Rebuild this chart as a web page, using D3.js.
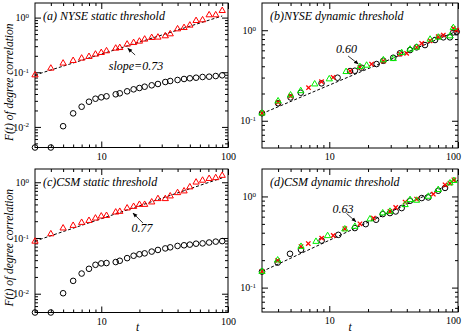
<!DOCTYPE html>
<html lang="en">
<head>
<meta charset="UTF-8">
<title>degree correlation</title>
<script src="https://d3js.org/d3.v7.min.js"></script>
<style>
    body { margin: 0; background: white; }
    svg { display: block; font-family: "Liberation Serif", "Times New Roman", serif; }
    .frame { fill: none; stroke: black; stroke-width: 1; }
    .tick line { stroke: black; }
    .tick text { font-size: 10px; fill: black; font-family: "Liberation Serif", serif; }
    .title { font-size: 12px; font-style: italic; }
    .label { font-size: 11.5px; font-style: italic; }
    .note { font-size: 12px; font-style: italic; }
    .fit { fill: none; stroke: black; stroke-width: 1; stroke-dasharray: 3,2; }
    .arrow { stroke: black; stroke-width: 0.8; }
</style>
</head>
<body>
<div id="chart"></div>
<script>
    const W = 463
    const H = 333

    // static threshold panels share the same lag values
    const tStatic = [3, 4, 5, 6, 7, 8, 9, 10, 11, 13, 14, 16, 18, 20, 22, 25, 28, 32, 35, 40, 45, 50, 56, 63, 71, 80, 90]

    // (a) NYSE static
    const nyseStaticTri = [0.089, 0.118, 0.146, 0.163, 0.18, 0.193, 0.213, 0.228, 0.245, 0.274, 0.281, 0.325, 0.347, 0.368, 0.401, 0.429, 0.436, 0.461, 0.501, 0.618, 0.653, 0.723, 0.877, 0.904, 1.116, 1.116, 1.337]
    const nyseStaticCirc = [0.0042, 0.0042, 0.0103, 0.0177, 0.0234, 0.0289, 0.0328, 0.0348, 0.0363, 0.0395, 0.0412, 0.0448, 0.0487, 0.0515, 0.0544, 0.0577, 0.061, 0.0663, 0.0692, 0.0722, 0.0753, 0.0775, 0.0795, 0.0819, 0.083, 0.0853, 0.0879]
    const fitA = [[3, 0.089], [90, 1.07]]

    // (c) CSM static
    const csmStaticTri = [0.087, 0.118, 0.15, 0.167, 0.189, 0.205, 0.226, 0.246, 0.252, 0.29, 0.298, 0.343, 0.366, 0.398, 0.398, 0.44, 0.505, 0.505, 0.564, 0.647, 0.694, 0.82, 1.0, 1.08, 1.16, 1.2, 1.32]
    const csmStaticCirc = [0.0046, 0.0046, 0.0102, 0.017, 0.023, 0.028, 0.033, 0.035, 0.0355, 0.037, 0.039, 0.0435, 0.048, 0.051, 0.053, 0.057, 0.061, 0.065, 0.068, 0.072, 0.074, 0.076, 0.079, 0.08, 0.083, 0.086, 0.088]
    const fitC = [[3, 0.088], [90, 1.2]]

    // (b) NYSE dynamic
    const nyseDynCircT = [3, 4, 5, 6, 8.7, 11.6, 14.5, 15.8, 17.8, 23.3, 26.3, 31.4, 35.4, 42.4, 47.7, 55.4, 66.3, 76.9, 86.6, 92, 97.7]
    const nyseDynCirc = [0.121, 0.156, 0.181, 0.204, 0.259, 0.299, 0.354, 0.357, 0.385, 0.423, 0.46, 0.497, 0.556, 0.604, 0.647, 0.686, 0.78, 0.835, 0.835, 0.948, 0.962]
    const nyseDynRedT = [3, 4, 5, 6.9, 8.7, 10.7, 14.5, 17.3, 21.3, 26.3, 35.4, 39.9, 47.7, 52.2, 60.7, 70.2, 76.9, 92, 97.7]
    const nyseDynRed = [0.121, 0.16, 0.187, 0.232, 0.27, 0.302, 0.354, 0.389, 0.423, 0.457, 0.545, 0.556, 0.647, 0.717, 0.766, 0.848, 0.885, 1.05, 1.005]
    const nyseDynGreenT = [3, 4, 5, 6, 7.7, 10, 13.5, 17.3, 19.5, 26.3, 31.4, 36.5, 42.4, 47.7, 60.7, 70.2, 86.6, 92]
    const nyseDynGreen = [0.121, 0.165, 0.192, 0.214, 0.254, 0.289, 0.348, 0.395, 0.409, 0.469, 0.484, 0.564, 0.615, 0.647, 0.793, 0.835, 0.863, 1.065]
    const fitB = [[3, 0.12], [100, 0.99]]

    // (d) CSM dynamic
    const csmDynCircT = [3, 3.97, 4.95, 6.03, 8.73, 11.75, 15.8, 19.2, 23.1, 26, 29.6, 32.8, 36.5, 42.4, 52.3, 58.8, 70.2, 79.3]
    const csmDynCirc = [0.15, 0.188, 0.235, 0.26, 0.328, 0.379, 0.45, 0.497, 0.555, 0.64, 0.657, 0.684, 0.745, 0.897, 0.96, 0.975, 1.155, 1.24]
    const csmDynRedT = [3, 3.97, 6.03, 6.87, 8.73, 10.74, 13.2, 17.3, 22, 29.6, 32.8, 38.8, 47.7, 64.3, 79.3, 86.6, 93]
    const csmDynRed = [0.15, 0.198, 0.282, 0.304, 0.349, 0.373, 0.442, 0.501, 0.579, 0.684, 0.757, 0.868, 0.936, 1.06, 1.34, 1.4, 1.52]
    const csmDynGreenT = [3, 3.97, 6.03, 7.88, 9.7, 13.2, 15.8, 20.7, 26, 29.6, 38.8, 42.4, 47.7, 58.8, 70.2, 86.6, 93]
    const csmDynGreen = [0.15, 0.2, 0.282, 0.32, 0.37, 0.438, 0.468, 0.565, 0.657, 0.684, 0.81, 0.92, 0.904, 1.0, 1.185, 1.4, 1.49]
    const fitD = [[3, 0.15], [100, 1.5]]

    const zip = (t, v) => t.map((d, i) => [d, v[i]])

    const panels = [
        { title: '(a) NYSE static threshold', box: [35, 3, 228, 147.5], yDomain: [0.0042, 1.85], fit: fitA,
          series: [{ kind: 'circle', color: 'black', data: zip(tStatic, nyseStaticCirc) },
                   { kind: 'tri', color: 'red', data: zip(tStatic, nyseStaticTri) }],
          note: { text: 'slope=0.73', at: [18.8, 0.132], from: [18.5, 0.207], to: [16.2, 0.274] },
          ylabel: true, xlabel: false },
        { title: '(b)NYSE dynamic threshold', box: [262, 3, 458, 148], yDomain: [0.05, 2], fit: fitB,
          series: [{ kind: 'circle', color: 'black', data: zip(nyseDynCircT, nyseDynCirc) },
                   { kind: 'x', color: 'red', data: zip(nyseDynRedT, nyseDynRed) },
                   { kind: 'tri', color: '#00ee00', data: zip(nyseDynGreenT, nyseDynGreen) }],
          note: { text: '0.60', at: [13.6, 0.621], from: [14.0, 0.519], to: [16.8, 0.424] },
          ylabel: false, xlabel: false },
        { title: '(c)CSM static threshold', box: [35, 169, 228, 312.5], yDomain: [0.0046, 1.73], fit: fitC,
          series: [{ kind: 'circle', color: 'black', data: zip(tStatic, csmStaticCirc) },
                   { kind: 'tri', color: 'red', data: zip(tStatic, csmStaticTri) }],
          note: { text: '0.77', at: [21.0, 0.151], from: [21.3, 0.186], to: [17.8, 0.28] },
          ylabel: true, xlabel: true },
        { title: '(d)CSM dynamic threshold', box: [262, 169, 458, 312], yDomain: [0.054, 2.0], fit: fitD,
          series: [{ kind: 'circle', color: 'black', data: zip(csmDynCircT, csmDynCirc) },
                   { kind: 'x', color: 'red', data: zip(csmDynRedT, csmDynRed) },
                   { kind: 'tri', color: '#00ee00', data: zip(csmDynGreenT, csmDynGreen) }],
          note: { text: '0.63', at: [12.8, 0.726], from: [13.6, 0.652], to: [16.1, 0.527] },
          ylabel: false, xlabel: true }
    ]

    const svg = d3.select('#chart').append('svg')
        .attr('width', W)
        .attr('height', H)
        .attr('viewBox', [0, 0, W, H])

    svg.append('rect').attr('width', W).attr('height', H).attr('fill', 'white')

    svg.append('defs').append('marker')
        .attr('id', 'head')
        .attr('viewBox', '0 0 10 10')
        .attr('refX', 9).attr('refY', 5)
        .attr('markerWidth', 6).attr('markerHeight', 6)
        .attr('orient', 'auto')
        .append('path').attr('d', 'M0,1L10,5L0,9Z').attr('fill', 'black')

    const xMajor = [10, 100]
    const xMinor = [4, 5, 6, 7, 8, 9, 20, 30, 40, 50, 60, 70, 80, 90]

    const triangle = d3.symbol().type(d3.symbolTriangle).size(17)
    const cross = 'M-2.2,-2.2L2.2,2.2M-2.2,2.2L2.2,-2.2'

    panels.forEach(p => {
        const [x0, y0, x1, y1] = p.box
        const x = d3.scaleLog().domain([3, 100]).range([x0, x1])
        const y = d3.scaleLog().domain(p.yDomain).range([y1, y0])
        const g = svg.append('g')

        const [lo, hi] = p.yDomain
        const yMajor = [1e-2, 1e-1, 1].filter(v => v >= lo && v <= hi)
        const yMinor = []
        for (let e = -3; e <= 0; e++) {
            for (let k = 2; k <= 9; k++) {
                const v = k * Math.pow(10, e)
                if (v > lo && v < hi) yMinor.push(v)
            }
        }

        // axes, ticks all pointing inward
        g.append('g').attr('transform', `translate(0,${y1})`)
            .call(d3.axisBottom(x).tickValues(xMajor).tickSize(-6).tickSizeOuter(0).tickPadding(5).tickFormat(d3.format('d')))
            .call(ax => ax.selectAll('.tick text').filter(d => x(d) + 8 > W).attr('dx', -5))
        g.append('g').attr('transform', `translate(0,${y1})`)
            .call(d3.axisBottom(x).tickValues(xMinor).tickSize(-3).tickSizeOuter(0).tickFormat(''))
        g.append('g').attr('transform', `translate(0,${y0})`)
            .call(d3.axisTop(x).tickValues(xMajor).tickSize(-6).tickSizeOuter(0).tickFormat(''))
        g.append('g').attr('transform', `translate(0,${y0})`)
            .call(d3.axisTop(x).tickValues(xMinor).tickSize(-3).tickSizeOuter(0).tickFormat(''))

        g.append('g').attr('transform', `translate(${x0},0)`)
            .call(d3.axisLeft(y).tickValues(yMajor).tickSize(-6).tickSizeOuter(0).tickPadding(6))
            .call(ax => ax.selectAll('.tick text').text(null).each(function (d) {
                const t = d3.select(this)
                t.append('tspan').text('10')
                t.append('tspan').attr('dy', '-0.45em').attr('font-size', '7px').text(Math.round(Math.log10(d)))
            }))
        g.append('g').attr('transform', `translate(${x0},0)`)
            .call(d3.axisLeft(y).tickValues(yMinor).tickSize(-3).tickSizeOuter(0).tickFormat(''))
        g.append('g').attr('transform', `translate(${x1},0)`)
            .call(d3.axisRight(y).tickValues(yMajor).tickSize(-6).tickSizeOuter(0).tickFormat(''))
        g.append('g').attr('transform', `translate(${x1},0)`)
            .call(d3.axisRight(y).tickValues(yMinor).tickSize(-3).tickSizeOuter(0).tickFormat(''))

        g.selectAll('.domain').remove()

        g.append('rect').attr('class', 'frame')
            .attr('x', x0).attr('y', y0)
            .attr('width', x1 - x0).attr('height', y1 - y0)

        // fitted power law
        g.append('path').attr('class', 'fit')
            .attr('d', d3.line().x(d => x(d[0])).y(d => y(d[1]))(p.fit))

        // data
        p.series.forEach(s => {
            const sel = g.append('g').selectAll('path').data(s.data).enter()
            if (s.kind === 'circle') {
                sel.append('circle')
                    .attr('cx', d => x(d[0])).attr('cy', d => y(d[1])).attr('r', 2.8)
                    .attr('fill', 'none').attr('stroke', s.color).attr('stroke-width', 1)
            } else if (s.kind === 'tri') {
                sel.append('path')
                    .attr('transform', d => `translate(${x(d[0])},${y(d[1])})`)
                    .attr('d', triangle)
                    .attr('fill', 'none').attr('stroke', s.color).attr('stroke-width', 1)
            } else {
                sel.append('path')
                    .attr('transform', d => `translate(${x(d[0])},${y(d[1])})`)
                    .attr('d', cross)
                    .attr('fill', 'none').attr('stroke', s.color).attr('stroke-width', 1.3)
            }
        })

        // annotation
        g.append('line').attr('class', 'arrow')
            .attr('x1', x(p.note.from[0])).attr('y1', y(p.note.from[1]))
            .attr('x2', x(p.note.to[0])).attr('y2', y(p.note.to[1]))
            .attr('marker-end', 'url(#head)')
        g.append('text').attr('class', 'note')
            .attr('x', x(p.note.at[0])).attr('y', y(p.note.at[1]))
            .attr('dy', '0.35em').attr('text-anchor', 'middle')
            .text(p.note.text)

        g.append('text').attr('class', 'title')
            .attr('x', x0 + 8).attr('y', y0 + 16.5)
            .text(p.title)

        if (p.ylabel) {
            g.append('text').attr('class', 'label')
                .attr('transform', `translate(13,${(y0 + y1) / 2 + 7}) rotate(-90)`)
                .attr('text-anchor', 'middle')
                .text('F(t) of degree correlation')
        }
        if (p.xlabel) {
            g.append('text').attr('class', 'label')
                .attr('x', (x0 + x1) / 2 + (x0 < 100 ? 6 : -10)).attr('y', 331)
                .attr('text-anchor', 'middle')
                .text('t')
        }
    })
</script>
</body>
</html>
